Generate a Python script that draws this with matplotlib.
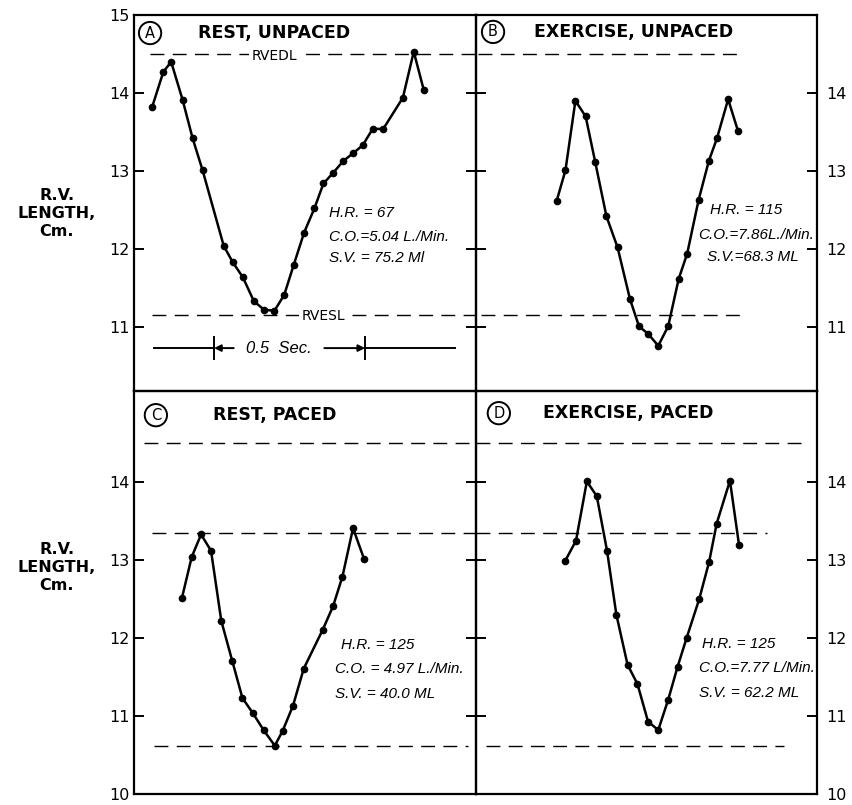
import matplotlib
matplotlib.use("Agg")
import matplotlib.pyplot as plt

plt.rcParams["font.family"] = ["DejaVu Sans"]

# === Datos (tiempo en s desde el borde del panel, longitud en cm) ===
t_rest_unpaced = [0.060, 0.097, 0.123, 0.161, 0.194, 0.227, 0.297, 0.327, 0.360, 0.397,
                  0.431, 0.465, 0.497, 0.529, 0.563, 0.597, 0.627, 0.660, 0.693, 0.726,
                  0.757, 0.790, 0.825, 0.890, 0.926, 0.959]
len_rest_unpaced = [13.82, 14.27, 14.40, 13.91, 13.42, 13.01, 12.04, 11.83, 11.64, 11.33,
                    11.22, 11.21, 11.41, 11.80, 12.21, 12.52, 12.84, 12.98, 13.13, 13.23,
                    13.33, 13.54, 13.54, 13.94, 14.53, 14.04]

t_ex_unpaced = [0.268, 0.297, 0.330, 0.364, 0.396, 0.433, 0.470, 0.511, 0.541, 0.572,
                0.605, 0.638, 0.673, 0.701, 0.739, 0.773, 0.800, 0.837, 0.870]
len_ex_unpaced = [12.62, 13.01, 13.90, 13.70, 13.11, 12.42, 12.02, 11.36, 11.01, 10.91,
                  10.76, 11.01, 11.62, 11.94, 12.63, 13.13, 13.42, 13.92, 13.51]

t_rest_paced = [0.159, 0.191, 0.222, 0.255, 0.289, 0.325, 0.359, 0.393, 0.429, 0.466,
                0.492, 0.526, 0.562, 0.625, 0.659, 0.690, 0.725, 0.761]
len_rest_paced = [12.52, 13.04, 13.33, 13.12, 12.22, 11.71, 11.23, 11.04, 10.82, 10.62,
                  10.81, 11.13, 11.61, 12.11, 12.41, 12.79, 13.41, 13.02]

t_ex_paced = [0.296, 0.332, 0.368, 0.401, 0.435, 0.466, 0.503, 0.536, 0.571, 0.605,
              0.638, 0.669, 0.699, 0.741, 0.774, 0.799, 0.843, 0.873]
len_ex_paced = [12.99, 13.25, 14.01, 13.82, 13.12, 12.30, 11.66, 11.41, 10.93, 10.82,
                11.21, 11.63, 12.00, 12.50, 12.98, 13.47, 14.02, 13.20]

# Niveles de referencia (RVEDL / RVESL)
rvedl = 14.5
rvesl = 11.16
paced_edl = 13.35
paced_esl = 10.62

titles = ["REST, UNPACED", "EXERCISE, UNPACED", "REST, PACED", "EXERCISE, PACED"]
letters = ["A", "B", "C", "D"]
hr_text = ["H.R. = 67", "H.R. = 115", "H.R. = 125", "H.R. = 125"]
co_text = ["C.O.=5.04 L./Min.", "C.O.=7.86L./Min.", "C.O. = 4.97 L./Min.", "C.O.=7.77 L/Min."]
sv_text = ["S.V. = 75.2 Ml", "S.V.=68.3 ML", "S.V. = 40.0 ML", "S.V. = 62.2 ML"]

W, H = 852, 805
fig = plt.figure(figsize=(W / 100, H / 100), dpi=100)


def axes_px(l, t, r, b):
    return fig.add_axes([l / W, 1 - b / H, (r - l) / W, (b - t) / H])


axA = axes_px(134, 15, 476, 391)
axB = axes_px(476, 15, 817, 391)
axC = axes_px(134, 391, 476, 794)
axD = axes_px(476, 391, 817, 794)
axes = [axA, axB, axC, axD]

series = [(t_rest_unpaced, len_rest_unpaced), (t_ex_unpaced, len_ex_unpaced),
          (t_rest_paced, len_rest_paced), (t_ex_paced, len_ex_paced)]

dash = dict(color="black", lw=1.0, dashes=(10, 6))
narrow = ["Liberation Sans", "DejaVu Sans"]

for i, ax in enumerate(axes):
    t, y = series[i]
    ax.plot(t, y, color="black", lw=1.8, marker="o", ms=4.5, zorder=3)
    ax.set_xlim(0, 1.132)
    if i < 2:
        ax.set_ylim(10.18, 15.0)
        ax.set_yticks([11, 12, 13, 14, 15] if i == 0 else [11, 12, 13, 14])
    else:
        ax.set_ylim(10.0, 15.17)
        ax.set_yticks([10, 11, 12, 13, 14])
    ax.set_xticks([])
    left_side = i % 2 == 0
    ax.tick_params(axis="y", direction="in", length=7, width=1.4, left=True, right=True,
                   labelleft=left_side, labelright=not left_side, labelsize=11.5,
                   pad=3 if left_side else 7)
    for s in ax.spines.values():
        s.set_linewidth(1.6)
    ax.patch.set_alpha(0)

    # titulo con letra en circulo
    ax.text([0.047, 0.05, 0.064, 0.067][i], [0.952, 0.955, 0.94, 0.945][i], letters[i],
            transform=ax.transAxes, ha="center", va="center", fontsize=10.5,
            bbox=dict(boxstyle="circle,pad=0.25", fc="white", ec="black", lw=1.4))
    ax.text([0.188, 0.17, 0.23, 0.196][i], [0.952, 0.955, 0.94, 0.945][i], titles[i],
            transform=ax.transAxes, ha="left", va="center", fontsize=12.5,
            fontweight="bold")

    # parametros hemodinamicos
    xs = [(0.569, 0.569, 0.569), (0.686, 0.652, 0.677), (0.604, 0.589, 0.589), (0.663, 0.654, 0.654)][i]
    ys = [(0.473, 0.410, 0.354), (0.481, 0.415, 0.356), (0.370, 0.310, 0.248), (0.372, 0.313, 0.251)][i]
    for txt, xx, yy in zip([hr_text[i], co_text[i], sv_text[i]], xs, ys):
        ax.text(xx, yy, txt, transform=ax.transAxes, ha="left", va="center",
                fontsize=11, style="italic", family=narrow)

# === Lineas de referencia ===
axA.plot([0.053, 1.132], [rvedl, rvedl], **dash)
axA.plot([0.06, 1.132], [rvesl, rvesl], **dash)
axA.text(0.464, rvedl - 0.03, "RVEDL", ha="center", va="center", fontsize=10,
         bbox=dict(fc="white", ec="none", pad=1.5))
axA.text(0.626, rvesl - 0.02, "RVESL", ha="center", va="center", fontsize=10,
         bbox=dict(fc="white", ec="none", pad=1.5))
axB.plot([0.007, 0.868], [rvedl, rvedl], **dash)
axB.plot([0.017, 0.90], [rvesl, rvesl], **dash)
axC.plot([0.033, 1.132], [rvedl, rvedl], **dash)
axC.plot([0.06, 1.132], [paced_edl, paced_edl], **dash)
axC.plot([0.066, 1.106], [paced_esl, paced_esl], **dash)
axD.plot([0.0, 1.09], [rvedl, rvedl], **dash)
axD.plot([0.0, 0.967], [paced_edl, paced_edl], **dash)
axD.plot([0.033, 1.023], [paced_esl, paced_esl], **dash)

# === Barra de escala 0.5 s ===
yb = 10.73
axA.plot([0.066, 0.265], [yb, yb], color="black", lw=1.4)
axA.plot([0.765, 1.063], [yb, yb], color="black", lw=1.4)
axA.plot([0.265, 0.265], [yb - 0.14, yb + 0.14], color="black", lw=1.4)
axA.plot([0.765, 0.765], [yb - 0.14, yb + 0.14], color="black", lw=1.4)
axA.annotate("", xy=(0.265, yb), xytext=(0.33, yb),
             arrowprops=dict(arrowstyle="-|>", color="black", lw=1.4, mutation_scale=10,
                             shrinkA=0, shrinkB=0))
axA.annotate("", xy=(0.765, yb), xytext=(0.63, yb),
             arrowprops=dict(arrowstyle="-|>", color="black", lw=1.4, mutation_scale=10,
                             shrinkA=0, shrinkB=0))
axA.text(0.48, yb, "0.5  Sec.", ha="center", va="center", fontsize=12, style="italic",
         family=narrow)

# === Etiquetas del eje y ===
for yc in (213, 567):
    fig.text(57 / W, 1 - yc / H, "R.V.\nLENGTH,\nCm.", ha="center", va="center",
             fontsize=11.5, linespacing=1.25, fontweight="bold")

fig.savefig("out.png", dpi=100)
